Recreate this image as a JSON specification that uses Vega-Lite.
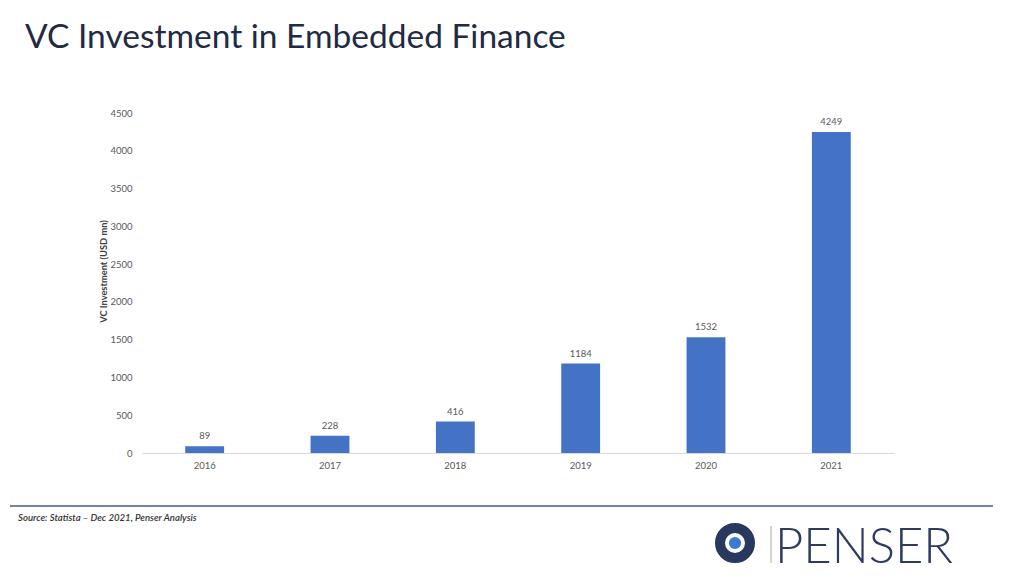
{
  "$schema": "https://vega.github.io/schema/vega-lite/v6.json",
  "width": 752,
  "height": 340,
  "autosize": {"type": "none"},
  "padding": {"left": 142, "top": 113, "right": 130, "bottom": 129},
  "background": "white",
  "title": {
    "text": "VC Investment in Embedded Finance",
    "anchor": "start",
    "frame": "group",
    "dx": -117,
    "offset": 53,
    "font": "Lato",
    "fontSize": 33.5,
    "fontWeight": "normal",
    "color": "#1F2A44"
  },
  "config": {"view": {"stroke": null}, "font": "Lato"},
  "datasets": {
    "vc": [
      {"year": "2016", "value": 89},
      {"year": "2017", "value": 228},
      {"year": "2018", "value": 416},
      {"year": "2019", "value": 1184},
      {"year": "2020", "value": 1532},
      {"year": "2021", "value": 4249}
    ]
  },
  "layer": [
    {
      "data": {"name": "vc"},
      "encoding": {
        "x": {
          "field": "year",
          "type": "nominal",
          "scale": {"paddingInner": 0.69, "paddingOuter": 0.345},
          "axis": {
            "title": null,
            "labelAngle": 0,
            "ticks": false,
            "tickSize": 0,
            "labelPadding": 7,
            "labelFontSize": 9.5,
            "labelColor": "#595959",
            "domainColor": "#D9D9D9",
            "domainWidth": 1
          }
        },
        "y": {
          "field": "value",
          "type": "quantitative",
          "scale": {"domain": [0, 4500], "nice": false},
          "axis": {
            "title": "VC Investment (USD mn)",
            "titleFontSize": 9.3,
            "titleFontWeight": "bold",
            "titleColor": "#404040",
            "titlePadding": 1,
            "titleY": 158,
            "format": "d",
            "values": [0, 500, 1000, 1500, 2000, 2500, 3000, 3500, 4000, 4500],
            "grid": false,
            "domain": false,
            "ticks": false,
            "tickSize": 0,
            "labelPadding": 10,
            "labelFontSize": 9.5,
            "labelColor": "#595959"
          }
        }
      },
      "layer": [
        {"mark": {"type": "bar", "color": "#4472C4"}},
        {
          "mark": {"type": "text", "baseline": "bottom", "dy": -5, "fontSize": 9.5, "color": "#595959"},
          "encoding": {"text": {"field": "value", "type": "quantitative", "format": "d"}}
        }
      ]
    },
    {
      "layer": [
        {
          "data": {"values": [{"part": "footer line"}]},
          "mark": {"type": "rule", "color": "#4A5B7D", "strokeWidth": 1.5},
          "encoding": {
            "x": {"datum": 10, "type": "quantitative", "scale": {"domain": [142, 894], "nice": false, "zero": false}, "axis": null},
            "x2": {"datum": 993},
            "y": {"datum": 506, "type": "quantitative", "scale": {"domain": [113, 453], "reverse": true, "nice": false, "zero": false}, "axis": null}
          }
        },
        {
          "data": {"values": [{"label": "Source: Statista – Dec 2021, Penser Analysis"}]},
          "mark": {"type": "text", "align": "left", "baseline": "middle", "fontSize": 9.6, "fontStyle": "italic", "fontWeight": 600, "color": "#333333"},
          "encoding": {
            "x": {"datum": 18, "type": "quantitative", "axis": null},
            "y": {"datum": 518, "type": "quantitative", "axis": null},
            "text": {"field": "label"}
          }
        },
        {
          "data": {"values": [{"part": "logo ring"}]},
          "mark": {"type": "point", "shape": "circle", "filled": false, "size": 900, "stroke": "#28385E", "strokeWidth": 10, "opacity": 1},
          "encoding": {
            "x": {"datum": 735, "type": "quantitative", "axis": null},
            "y": {"datum": 543, "type": "quantitative", "axis": null}
          }
        },
        {
          "data": {"values": [{"part": "logo dot"}]},
          "mark": {"type": "point", "shape": "circle", "filled": true, "size": 150, "color": "#3B7BD4", "opacity": 1},
          "encoding": {
            "x": {"datum": 735, "type": "quantitative", "axis": null},
            "y": {"datum": 543, "type": "quantitative", "axis": null}
          }
        },
        {
          "data": {"values": [{"part": "logo separator"}]},
          "mark": {"type": "rule", "color": "#A8A8A8", "strokeWidth": 1},
          "encoding": {
            "x": {"datum": 771, "type": "quantitative", "axis": null},
            "y": {"datum": 526, "type": "quantitative", "axis": null},
            "y2": {"datum": 563}
          }
        },
        {
          "data": {"values": [{"label": "PENSER"}]},
          "mark": {"type": "text", "align": "left", "baseline": "alphabetic", "fontSize": 49, "fontWeight": 300, "font": "Lato", "color": "#2E3B5E"},
          "encoding": {
            "x": {"datum": 775, "type": "quantitative", "axis": null},
            "y": {"datum": 563, "type": "quantitative", "axis": null},
            "text": {"field": "label"}
          }
        }
      ]
    }
  ],
  "resolve": {"scale": {"x": "independent", "y": "independent"}}
}
